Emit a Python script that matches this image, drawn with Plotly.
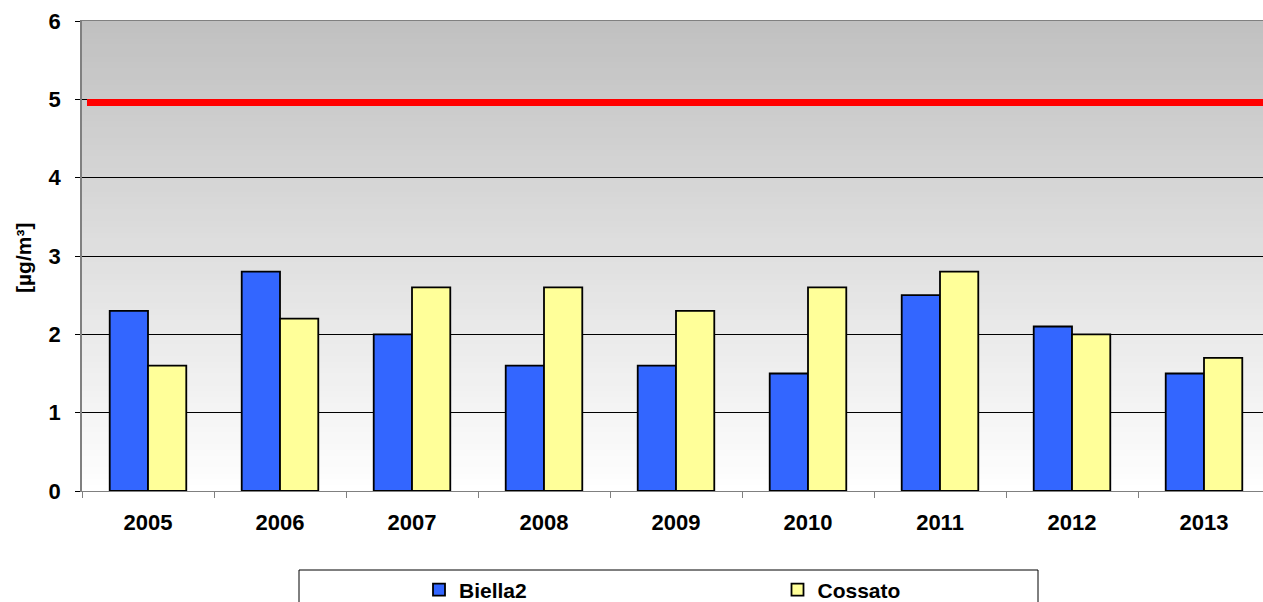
import plotly.graph_objects as go

years = ["2005", "2006", "2007", "2008", "2009", "2010", "2011", "2012", "2013"]
biella2 = [2.3, 2.8, 2.0, 1.6, 1.6, 1.5, 2.5, 2.1, 1.5]
cossato = [1.6, 2.2, 2.6, 2.6, 2.3, 2.6, 2.8, 2.0, 1.7]
limit_value = [4.96]
y_ticks = [0, 1, 2, 3, 4, 5, 6]

FONT = "Liberation Sans, Arial, sans-serif"
FIG_W, FIG_H = 1263, 602
PLOT_L, PLOT_W, PLOT_T, PLOT_B = 82, 1181, 21, 491   # in page pixels
PLOT_H = PLOT_B - PLOT_T


def px_x(px):
    return (px - PLOT_L) / PLOT_W


def px_y(py):
    return (PLOT_B - py) / PLOT_H


fig = go.Figure()
fig.add_trace(go.Bar(
    x=years, y=biella2, name="Biella2", legend="legend",
    marker=dict(color="#3366FF", line=dict(color="black", width=1.8)),
))
fig.add_trace(go.Bar(
    x=years, y=cossato, name="Cossato", legend="legend2",
    marker=dict(color="#FFFF99", line=dict(color="black", width=1.8)),
))

# gradient background: grey at top to white at bottom (overlapping bands, no seams)
shapes = []
n = 80
for i in range(n):
    c = int(round(192 + (255 - 192) * (1 - (i + 0.5) / n)))
    shapes.append(dict(
        type="rect", xref="x domain", yref="y domain",
        x0=0, x1=1, y0=i / n, y1=1,
        fillcolor=f"rgb({c},{c},{c})", line=dict(width=0), layer="below",
    ))

# limit line
shapes.append(dict(
    type="line", xref="x domain", yref="y",
    x0=px_x(87), x1=1, y0=limit_value[0], y1=limit_value[0],
    line=dict(color="#FF0000", width=7), layer="above",
))

# legend box
shapes.append(dict(
    type="rect", xref="paper", yref="paper",
    x0=px_x(299), x1=px_x(1038),
    y0=px_y(640), y1=px_y(570),
    line=dict(color="black", width=1), fillcolor="rgba(0,0,0,0)",
))

legend_font = dict(family=FONT, size=21, color="black", weight="bold")

fig.update_layout(
    width=FIG_W, height=FIG_H,
    margin=dict(l=PLOT_L, r=0, t=PLOT_T, b=FIG_H - PLOT_B, autoexpand=False),
    paper_bgcolor="white",
    plot_bgcolor="white",
    barmode="group",
    bargap=0.42,
    bargroupgap=0,
    font=dict(family=FONT, color="black"),
    showlegend=True,
    legend=dict(
        orientation="h",
        x=px_x(419), xanchor="left",
        y=px_y(590), yanchor="middle",
        font=legend_font, bgcolor="rgba(0,0,0,0)", itemclick=False,
    ),
    legend2=dict(
        orientation="h",
        x=px_x(777.5), xanchor="left",
        y=px_y(590), yanchor="middle",
        font=legend_font, bgcolor="rgba(0,0,0,0)", itemclick=False,
    ),
    shapes=shapes,
    annotations=[dict(
        text="[µg/m³]", textangle=-90, showarrow=False,
        xref="paper", yref="paper", x=px_x(23), y=px_y(258),
        xanchor="center", yanchor="middle",
        font=dict(family=FONT, size=21, color="black", weight="bold"),
    )],
    xaxis=dict(
        type="category",
        range=[-0.5, 8.447],
        automargin=False,
        showline=True, linecolor="#808080", linewidth=1, mirror=True,
        ticks="outside", tickson="boundaries", ticklen=6, tickcolor="#808080",
        ticklabelstandoff=12,
        showgrid=False,
        tickfont=dict(family=FONT, size=22, color="black", weight="bold"),
    ),
    yaxis=dict(
        range=[0, 6],
        automargin=False,
        tickvals=y_ticks,
        showline=True, linecolor="#808080", linewidth=1.5,
        ticks="outside", ticklen=5, tickcolor="black",
        ticklabelstandoff=10,
        showgrid=True, gridcolor="black", gridwidth=1,
        zeroline=False,
        tickfont=dict(family=FONT, size=22, color="black", weight="bold"),
    ),
)

fig.write_html(
    "out.html",
    config={"displayModeBar": False},
    post_script="document.body.style.margin='0';document.body.style.overflow='hidden';",
)
